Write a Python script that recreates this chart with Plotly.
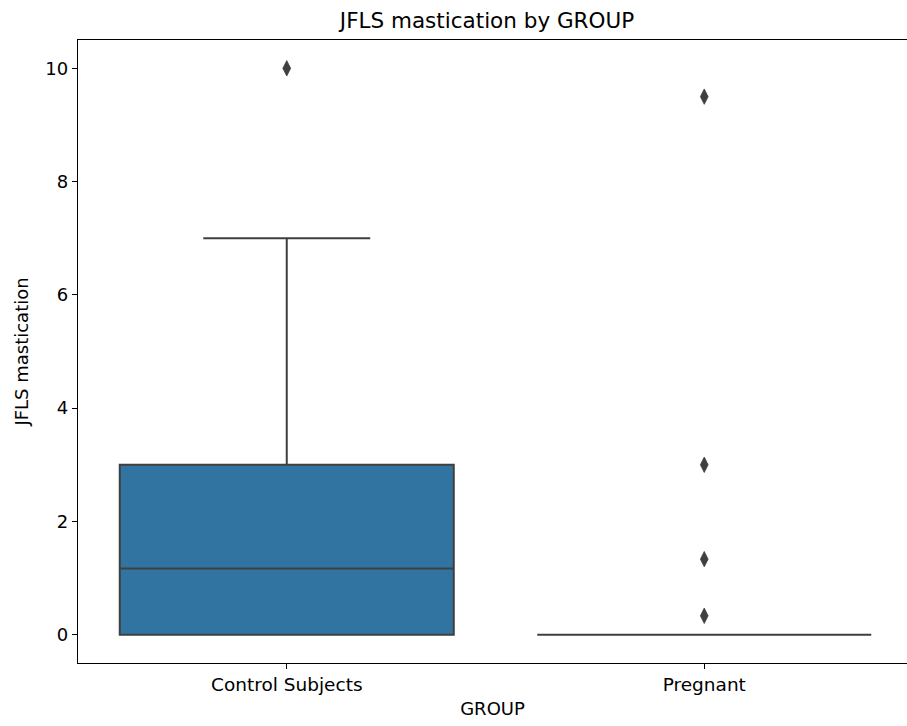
import plotly.graph_objects as go

# ---- data ----
groups = ["Control Subjects", "Pregnant"]
q1_vals = [0.0, 0.0]
median_vals = [1.1667, 0.0]
q3_vals = [3.0, 0.0]
lower_fence = [0.0, 0.0]
upper_fence = [7.0, 0.0]
box_colors = ["#3274a1", "#e1812c"]

outlier_groups = ["Control Subjects", "Pregnant", "Pregnant", "Pregnant", "Pregnant"]
outlier_values = [10.0, 9.5, 3.0, 1.3333, 0.3333]

y_ticks = [0, 2, 4, 6, 8, 10]

LINE = "#3f3f3f"
FONT = "DejaVu Sans"

fig = go.Figure()
for i, g in enumerate(groups):
    fig.add_trace(go.Box(
        x=[g], q1=[q1_vals[i]], median=[median_vals[i]], q3=[q3_vals[i]],
        lowerfence=[lower_fence[i]], upperfence=[upper_fence[i]],
        fillcolor=box_colors[i], line=dict(color=LINE, width=2),
        width=0.8, whiskerwidth=0.5, boxpoints=False, showlegend=False,
        hoverinfo="skip",
    ))

fig.add_trace(go.Scatter(
    x=outlier_groups, y=outlier_values, mode="markers",
    marker=dict(symbol="diamond-tall", size=11, color=LINE,
                line=dict(color=LINE, width=0.8)),
    showlegend=False, hoverinfo="skip",
))

fig.update_layout(
    width=907, height=726,
    margin=dict(l=78, r=0, t=40, b=63),
    paper_bgcolor="white", plot_bgcolor="white",
    boxmode="overlay",
    font=dict(family=FONT, size=18, color="black"),
    title=dict(text="JFLS mastication by GROUP", font=dict(size=21.5, family=FONT, color="black"),
               xref="container", x=487/907, xanchor="center",
               yref="container", y=1 - 20/726, yanchor="middle"),
    xaxis=dict(
        type="category", categoryorder="array", categoryarray=groups,
        range=[-0.5, 1.4856],
        showline=True, linecolor="black", linewidth=1.3, mirror=True,
        ticks="outside", ticklen=5, tickwidth=1.3, tickcolor="black",
        showgrid=False, zeroline=False,
        title=dict(text="GROUP", standoff=8, font=dict(size=18)),
        tickfont=dict(size=18.5),
    ),
    yaxis=dict(
        range=[-0.5, 10.5], tickvals=y_ticks,
        showline=True, linecolor="black", linewidth=1.3, mirror=False,
        ticks="outside", ticklen=5, tickwidth=1.3, tickcolor="black",
        showgrid=False, zeroline=False,
        title=dict(text="JFLS mastication", standoff=12, font=dict(size=18)),
        tickfont=dict(size=18),
    ),
)

fig.write_html("out.html")
